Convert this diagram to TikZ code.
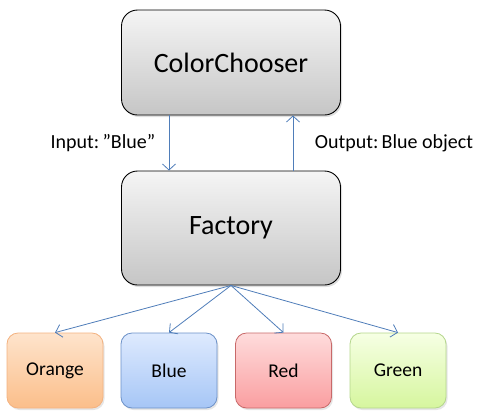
\documentclass[tikz,border=0pt]{standalone}
\usepackage{fontspec}
\setmainfont{Carlito}
\usetikzlibrary{arrows.meta,shadows}
\definecolor{arrblue}{RGB}{79,125,185}
\tikzset{
  bigbox/.style={draw=black, line width=0.9pt, rounded corners=16pt,
    top color=gray!8, bottom color=gray!45,
    drop shadow={shadow xshift=1.5pt, shadow yshift=-2pt, opacity=0.25},
    minimum width=219pt, font=\fontsize{28}{30}\selectfont},
  smallbox/.style={line width=0.8pt, rounded corners=11pt,
    minimum width=96pt, minimum height=75pt,
    drop shadow={shadow xshift=1.5pt, shadow yshift=-2pt, opacity=0.2},
    font=\fontsize{19.5}{22}\selectfont},
  lbl/.style={font=\fontsize{20}{22}\selectfont, inner sep=0pt},
  arr/.style={draw=arrblue, line width=0.8pt, -{Straight Barb[length=6pt,width=13pt]}}
}
\begin{document}
\begin{tikzpicture}[x=1pt,y=-1pt]
  \useasboundingbox (0,0) rectangle (482,416);
  % top and middle
  \node[bigbox, minimum height=105pt] (chooser) at (231,62.5) {ColorChooser};
  \node[bigbox, minimum height=114pt] (factory) at (231,228) {Factory};
  % products
  \node[smallbox, draw={rgb,255:red,243;green,178;blue,128}, top color={rgb,255:red,254;green,228;blue,204}, bottom color={rgb,255:red,251;green,190;blue,138}] (orange) at (55,370.5) {Orange};
  \node[smallbox, draw={rgb,255:red,108;green,145;blue,200}, top color={rgb,255:red,222;green,234;blue,254}, bottom color={rgb,255:red,166;green,198;blue,246}] (blue) at (169,370.5) {Blue};
  \node[smallbox, draw={rgb,255:red,200;green,105;blue,105}, top color={rgb,255:red,254;green,220;blue,220}, bottom color={rgb,255:red,250;green,158;blue,160}] (red) at (283.5,370.5) {Red};
  \node[smallbox, draw={rgb,255:red,180;green,214;blue,140}, top color={rgb,255:red,246;green,255;blue,228}, bottom color={rgb,255:red,214;green,246;blue,158}] (green) at (398,370.5) {Green};
  % labels
  \node[lbl] (input) at (103,143) {Input:\,”Blue”};
  \node[lbl] (output) at (394,143) {Output:\,Blue object};
  % connectors
  \draw[arr] ([xshift=-62pt]chooser.south) -- ([xshift=-62pt]factory.north);
  \draw[arr] ([xshift=62pt]factory.north) -- ([xshift=62pt]chooser.south);
  \foreach \p in {orange,blue,red,green}
    \draw[arr] (factory.south) -- (\p.north);
\end{tikzpicture}
\end{document}
